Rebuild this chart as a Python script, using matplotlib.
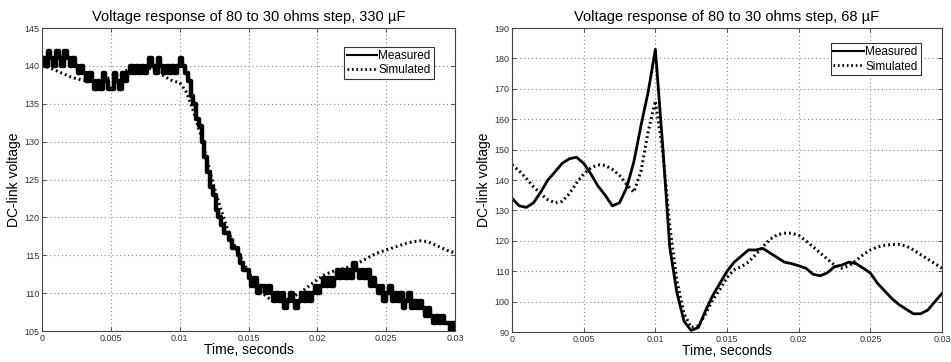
import numpy as np
import matplotlib.pyplot as plt
from matplotlib.ticker import FuncFormatter

plt.rcParams['font.family'] = ['Liberation Sans', 'DejaVu Sans']

# ---- 330 uF case: measured samples every 0.2 ms (quantised scope data)
t_meas_330 = np.round(np.arange(0, 0.03 + 1e-9, 0.0002), 6)
v_meas_330 = [
    141, 140, 142, 141, 140,
    142, 141, 140, 142, 141,
    140, 141, 140, 139, 140,
    139, 138, 139, 138, 137,
    138, 137, 139, 138, 137,
    137, 139, 138, 137, 139,
    138, 139, 140, 139, 140,
    139, 140, 139, 140, 141,
    140, 139, 141, 140, 139,
    140, 139, 140, 139, 140,
    141, 140, 139, 138, 136,
    135, 133, 132, 130, 128,
    126, 124, 123, 121, 120,
    119, 118, 118, 117, 116,
    116, 115, 114, 113, 113,
    112, 111, 112, 110, 111,
    111, 110, 111, 110, 109,
    110, 109, 110, 108, 109,
    110, 109, 108, 109, 110,
    109, 110, 109, 110, 111,
    110, 111, 112, 111, 112,
    111, 112, 113, 112, 113,
    112, 113, 112, 114, 113,
    112, 113, 112, 113, 111,
    112, 111, 110, 111, 109,
    110, 111, 109, 110, 109,
    110, 108, 109, 110, 108,
    109, 108, 109, 108, 107,
    108, 107, 106, 107, 106,
    107, 106, 106, 105, 106,
    105,
]

# ---- 330 uF case: simulation, every 0.5 ms
t_sim_330 = np.round(np.arange(0, 0.03 + 1e-9, 0.0005), 6)
v_sim_330 = [
    140.0, 139.8, 139.4, 139.0, 138.6, 138.3, 138.1, 138.0, 138.0, 138.2,
    138.5, 138.9, 139.3, 139.6, 139.8, 139.8, 139.6, 139.1, 138.5, 138.0,
    137.8, 136.5, 134.0, 131.0, 127.5, 124.0, 121.0, 118.3, 116.2, 114.5,
    112.8, 111.2, 110.0, 109.3, 109.0, 109.0, 109.3, 109.8, 110.4, 111.1,
    111.8, 112.4, 112.8, 113.1, 113.3, 113.6, 114.0, 114.5, 115.0, 115.4,
    115.7, 116.0, 116.3, 116.6, 116.8, 116.9, 116.8, 116.4, 116.0, 115.6,
    115.3,
]

# ---- 68 uF case, every 0.5 ms
t_68 = np.round(np.arange(0, 0.03 + 1e-9, 0.0005), 6)
v_meas_68 = [
    134.0, 131.5, 131.0, 132.5, 136.0, 140.0, 142.7, 145.5, 147.0, 147.5,
    145.5, 142.0, 138.0, 135.0, 131.5, 132.5, 137.5, 146.0, 158.0, 169.0,
    183.0, 152.0, 118.0, 103.0, 93.5, 90.5, 91.5, 97.0, 102.0, 106.0,
    110.0, 113.0, 115.0, 117.0, 117.0, 117.5, 116.0, 114.5, 113.0, 112.5,
    111.8, 111.0, 109.0, 108.5, 109.5, 111.5, 112.0, 113.0, 112.5, 111.0,
    109.4, 106.0, 103.5, 101.0, 99.0, 97.5, 96.0, 96.0, 97.2, 100.0,
    102.7,
]
v_sim_68 = [
    145.0, 143.0, 140.5, 137.8, 135.5, 133.5, 132.5, 133.0, 135.5, 139.0,
    142.0, 144.0, 145.0, 144.8, 143.5, 141.5, 138.5, 136.0, 143.0, 156.0,
    166.0, 150.0, 125.0, 107.0, 96.0, 91.5, 92.0, 96.0, 100.5, 104.0,
    108.0, 110.5, 111.5, 113.0, 115.5, 118.0, 120.5, 122.0, 122.5, 122.5,
    121.8, 120.0, 118.0, 116.0, 114.0, 112.0, 111.0, 111.8, 113.5, 115.5,
    117.0, 118.0, 118.5, 118.8, 118.8, 118.3, 117.0, 115.5, 114.0, 112.5,
    111.0,
]

fig = plt.figure(figsize=(9.51, 3.62), dpi=100)
ax1 = fig.add_axes([0.0442, 0.0856, 0.4343, 0.837])
ax2 = fig.add_axes([0.5384, 0.0828, 0.4522, 0.8398])


def style_axes(ax, ylim, yticks):
    ax.set_xlim(0, 0.03)
    ax.set_ylim(*ylim)
    ax.set_xticks(np.arange(0, 0.0301, 0.005))
    ax.set_yticks(yticks)
    ax.xaxis.set_major_formatter(FuncFormatter(lambda v, p: '%g' % round(v, 4)))
    ax.grid(True, color='#888888', linestyle=(0, (1, 2.5)), linewidth=0.8)
    ax.tick_params(direction='in', length=3, width=0.6, labelsize=6.5,
                   top=True, right=True, colors='#333333', pad=2)
    for s in ax.spines.values():
        s.set_color('#444444')
        s.set_linewidth(0.8)
    ax.set_xlabel('Time, seconds', fontsize=10, labelpad=0)
    ax.set_ylabel('DC-link voltage', fontsize=10, labelpad=2)


# left: 330 uF
ax1.plot(t_meas_330, v_meas_330, color='black', linewidth=3.2,
         drawstyle='steps-post', label='Measured')
ax1.plot(t_sim_330, v_sim_330, color='black', linewidth=2.2,
         linestyle=(0, (0.6, 1.0)), label='Simulated')
style_axes(ax1, (105, 145), np.arange(105, 146, 5))
ax1.set_title('Voltage response of 80 to 30 ohms step, 330 µF', fontsize=10.5, pad=5)

# right: 68 uF
ax2.plot(t_68, v_meas_68, color='black', linewidth=2.0, label='Measured')
ax2.plot(t_68, v_sim_68, color='black', linewidth=2.2,
         linestyle=(0, (0.6, 1.0)), label='Simulated')
style_axes(ax2, (90, 190), np.arange(90, 191, 10))
ax2.set_title('Voltage response of 80 to 30 ohms step, 68 µF', fontsize=10.5, pad=5)

for ax, anchor in ((ax1, (0.948, 0.938)), (ax2, (0.95, 0.95))):
    leg = ax.legend(loc='upper right', bbox_to_anchor=anchor, fontsize=8.5,
                    fancybox=False, edgecolor='#333333', framealpha=1,
                    handlelength=2.6, handletextpad=0.1, borderpad=0.25,
                    labelspacing=0.2, borderaxespad=0)
    leg.get_frame().set_linewidth(0.8)
    # thinner sample lines in the legend box
    leg.get_lines()[0].set_linewidth(1.5)
    leg.get_lines()[1].set_linewidth(2.0)

fig.savefig('out.png', dpi=100)
